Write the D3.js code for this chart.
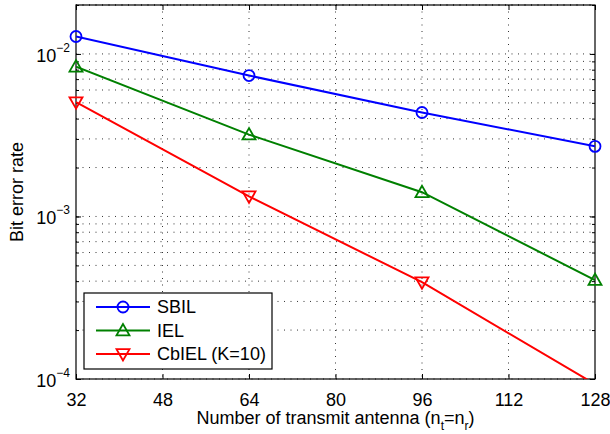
<!DOCTYPE html>
<html>
<head>
<meta charset="utf-8">
<script src="https://cdn.jsdelivr.net/npm/d3@7"></script>
<style>
  body { margin: 0; background: #fff; }
  text { font-family: "Liberation Sans", Arial, sans-serif; fill: #000; }
</style>
</head>
<body>
<script>
// chart data
var antennas = [32, 64, 96, 128];
var sbil = [0.0128, 0.00736, 0.00436, 0.0027];
var iel = [0.00835, 0.00319, 0.00141, 0.000406];
var cbiel = [0.00505, 0.00133, 0.000394, 0.000093];
var seriesNames = ["SBIL", "IEL", "CbIEL (K=10)"];
var xTicks = [32, 48, 64, 80, 96, 112, 128];
var yTicks = [1e-4, 1e-3, 1e-2];

var svgWidth = 610, svgHeight = 434;
var margin = { top: 5, right: 15, bottom: 55, left: 76 };
var width = svgWidth - margin.left - margin.right;
var height = svgHeight - margin.top - margin.bottom;
var fs = "18px";

var svg = d3.select("body").append("svg")
  .attr("width", svgWidth)
  .attr("height", svgHeight);

var chart = svg.append("g")
  .attr("transform", `translate(${margin.left}, ${margin.top})`);

var x = d3.scaleLinear().domain([32, 128]).range([0, width]);
var y = d3.scaleLog().domain([1e-4, 2e-2]).range([height, 0]);

// minor log values for grid / ticks
var minorVals = [];
[1e-4, 1e-3, 1e-2].forEach(function(d) {
  for (var k = 1; k <= 9; k++) {
    var v = d * k;
    if (v <= 2e-2 + 1e-12) minorVals.push(v);
  }
});
minorVals.push(2e-2);

// grid
var grid = chart.append("g");
grid.selectAll(".hg").data(minorVals).enter().append("line")
  .attr("x1", 0).attr("x2", width)
  .attr("y1", function(d) { return y(d); })
  .attr("y2", function(d) { return y(d); })
  .attr("stroke", "#000").attr("stroke-width", 0.8)
  .attr("stroke-dasharray", "1,5.5");
grid.selectAll(".vg").data(xTicks.slice(1, -1)).enter().append("line")
  .attr("x1", function(d) { return x(d); })
  .attr("x2", function(d) { return x(d); })
  .attr("y1", 0).attr("y2", height)
  .attr("stroke", "#000").attr("stroke-width", 0.8)
  .attr("stroke-dasharray", "1,5.5");

// axes with inner ticks
var bottomAxis = d3.axisBottom(x).tickValues(xTicks).tickSize(-5).tickPadding(14).tickFormat(d3.format("d"));
var topAxis = d3.axisTop(x).tickValues(xTicks).tickSize(-5).tickFormat("");
var leftMinor = d3.axisLeft(y).tickValues(minorVals).tickSize(-3).tickFormat("");
var rightMinor = d3.axisRight(y).tickValues(minorVals).tickSize(-3).tickFormat("");
var leftMajor = d3.axisLeft(y).tickValues(yTicks).tickSize(-5).tickFormat("");
var rightMajor = d3.axisRight(y).tickValues(yTicks).tickSize(-5).tickFormat("");

chart.append("g").attr("transform", `translate(0, ${height})`).call(bottomAxis)
  .call(function(g) {
    g.attr("font-size", null).attr("font-family", null);
    g.selectAll("text").style("font-size", fs);
  });
chart.append("g").call(topAxis);
chart.append("g").call(leftMinor);
chart.append("g").call(leftMajor);
chart.append("g").attr("transform", `translate(${width}, 0)`).call(rightMinor);
chart.append("g").attr("transform", `translate(${width}, 0)`).call(rightMajor);
chart.selectAll(".domain").remove();
chart.selectAll(".tick line").attr("stroke", "#000").attr("stroke-width", 1);

chart.append("rect")
  .attr("width", width).attr("height", height)
  .attr("fill", "none").attr("stroke", "#000").attr("stroke-width", 1.2);

// y tick labels 10^n
var ylab = chart.append("g");
yTicks.forEach(function(v) {
  var t = ylab.append("text")
    .attr("x", -6).attr("y", y(v) + 8)
    .attr("text-anchor", "end")
    .style("font-size", fs);
  t.append("tspan").text("10");
  t.append("tspan").attr("dy", -10).style("font-size", "12px")
    .text("\u2212" + Math.round(-Math.log10(v)));
});

// series
var series = [
  { name: seriesNames[0], values: sbil, color: "#0000ff", marker: "circle" },
  { name: seriesNames[1], values: iel, color: "#008000", marker: "up" },
  { name: seriesNames[2], values: cbiel, color: "#ff0000", marker: "down" }
];

svg.append("defs").append("clipPath").attr("id", "plotclip")
  .append("rect").attr("width", width).attr("height", height);

var line = d3.line()
  .x(function(d, i) { return x(antennas[i]); })
  .y(function(d) { return y(d); });

function drawMarker(g, type, cx, cy, color) {
  if (type === "circle") {
    g.append("circle").attr("cx", cx).attr("cy", cy).attr("r", 5.5)
      .attr("fill", "none").attr("stroke", color).attr("stroke-width", 1.8);
  } else {
    var s = 6.5, dir = type === "up" ? -1 : 1;
    var pts = [[cx, cy + dir * s], [cx - s, cy - dir * s * 0.75], [cx + s, cy - dir * s * 0.75]];
    g.append("path").attr("d", "M" + pts.join("L") + "Z")
      .attr("fill", "none").attr("stroke", color).attr("stroke-width", 1.8);
  }
}

var plot = chart.append("g").attr("clip-path", "url(#plotclip)");
series.forEach(function(s) {
  plot.append("path").datum(s.values)
    .attr("d", line)
    .attr("fill", "none").attr("stroke", s.color).attr("stroke-width", 2);
});
var markers = chart.append("g");
series.forEach(function(s) {
  s.values.forEach(function(v, i) {
    if (v >= 1e-4) drawMarker(markers, s.marker, x(antennas[i]), y(v), s.color);
  });
});

// legend
var legend = chart.append("g").attr("transform", "translate(8, 288)");
legend.append("rect").attr("width", 188).attr("height", 76)
  .attr("fill", "#fff").attr("stroke", "#000").attr("stroke-width", 1.2);
series.forEach(function(s, i) {
  var ly = 14 + i * 23.5;
  legend.append("line").attr("x1", 12).attr("x2", 66).attr("y1", ly).attr("y2", ly)
    .attr("stroke", s.color).attr("stroke-width", 2);
  drawMarker(legend, s.marker, 39, ly, s.color);
  legend.append("text").attr("x", 73).attr("y", ly + 6)
    .style("font-size", fs).text(s.name);
});

// axis titles
svg.append("text")
  .attr("transform", `translate(23, ${margin.top + height / 2}) rotate(-90)`)
  .attr("text-anchor", "middle")
  .style("font-size", fs)
  .text("Bit error rate");

var xt = svg.append("text")
  .attr("x", margin.left + width / 2).attr("y", 424)
  .attr("text-anchor", "middle")
  .style("font-size", fs);
xt.append("tspan").text("Number of transmit antenna (n");
xt.append("tspan").attr("dy", 6).style("font-size", "12px").text("t");
xt.append("tspan").attr("dy", -6).text("=n");
xt.append("tspan").attr("dy", 6).style("font-size", "12px").text("r");
xt.append("tspan").attr("dy", -6).text(")");
</script>
</body>
</html>
